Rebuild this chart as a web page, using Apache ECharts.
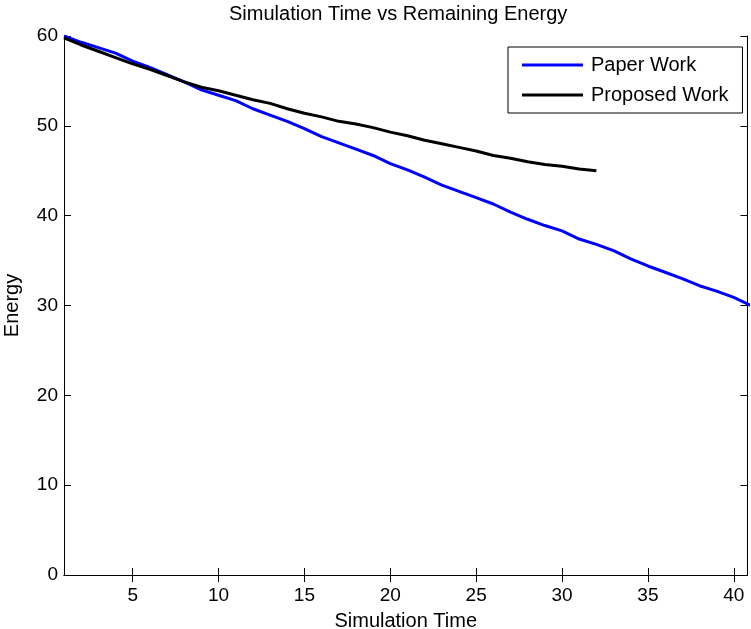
<!DOCTYPE html>
<html>
<head>
<meta charset="utf-8">
<script src="https://cdn.jsdelivr.net/npm/echarts@6/dist/echarts.min.js"></script>
<style>
  html, body { margin: 0; padding: 0; background: #fff; }
  #chart { width: 751px; height: 629px; }
</style>
</head>
<body>
<div id="chart"></div>
<script>
// ---- data ----
const titleText = 'Simulation Time vs Remaining Energy';
const xName = 'Simulation Time';
const yName = 'Energy';
const paperName = 'Paper Work';
const proposedName = 'Proposed Work';

const paperX = [1,2,3,4,5,6,7,8,9,10,11,12,13,14,15,16,17,18,19,20,21,22,23,24,25,26,27,28,29,30,31,32,33,34,35,36,37,38,39,40,41];
const paperY = [60.0,59.3,58.7,58.1,57.2,56.5,55.7,54.9,54.0,53.4,52.8,51.9,51.2,50.5,49.7,48.8,48.1,47.4,46.7,45.8,45.1,44.3,43.4,42.7,42.0,41.3,40.4,39.6,38.9,38.3,37.4,36.8,36.1,35.2,34.4,33.7,33.0,32.2,31.6,30.9,30.0];

const proposedX = [1,2,3,4,5,6,7,8,9,10,11,12,13,14,15,16,17,18,19,20,21,22,23,24,25,26,27,28,29,30,31,32];
const proposedY = [59.8,59.0,58.3,57.6,56.9,56.3,55.6,54.9,54.3,53.9,53.4,52.9,52.5,51.9,51.4,51.0,50.5,50.2,49.8,49.3,48.9,48.4,48.0,47.6,47.2,46.7,46.4,46.0,45.7,45.5,45.2,45.0];

const xTicks = [5,10,15,20,25,30,35,40];
const yTicks = [0,10,20,30,40,50,60];

// ---- chart ----
const FONT = 'Arial, "Liberation Sans", sans-serif';
const zip = (xs, ys) => xs.map((x, i) => [x, ys[i]]);
const axisLine = { show: true, lineStyle: { color: '#000', width: 1 } };

const chart = echarts.init(document.getElementById('chart'), null, { renderer: 'canvas' });
chart.setOption({
  animation: false,
  backgroundColor: '#fff',
  textStyle: { fontFamily: FONT },
  title: {
    text: titleText,
    left: 229, top: 4, padding: 0,
    textStyle: { fontFamily: FONT, fontSize: 20, fontWeight: 'normal', color: '#000' }
  },
  grid: { left: 64, right: 3.5, top: 36, bottom: 54, containLabel: false, outerBoundsMode: 'none' },
  legend: {
    orient: 'vertical',
    left: 508, top: 47,
    padding: [8, 14, 8, 14],
    itemGap: 10,
    itemWidth: 61, itemHeight: 3,
    icon: 'rect',
    backgroundColor: '#fff',
    borderColor: '#000', borderWidth: 1, borderRadius: 0,
    textStyle: { fontFamily: FONT, fontSize: 20, color: '#000', lineHeight: 20, padding: [0,0,0,3] },
    data: [paperName, proposedName]
  },
  xAxis: [
    {
      type: 'value', min: 1, max: 40.8, position: 'bottom',
      name: xName, nameLocation: 'middle', nameGap: 36,
      nameTextStyle: { fontFamily: FONT, fontSize: 20, color: '#000' },
      axisLine: axisLine,
      axisTick: { show: true, inside: true, length: 7, customValues: xTicks, lineStyle: { color: '#000' } },
      axisLabel: { show: true, customValues: xTicks, margin: 11, fontFamily: FONT, fontSize: 19, color: '#000' },
      splitLine: { show: false }
    },
    {
      type: 'value', min: 1, max: 40.8, position: 'top',
      axisLine: axisLine,
      axisTick: { show: true, inside: true, length: 7, customValues: xTicks, lineStyle: { color: '#000' } },
      axisLabel: { show: false },
      splitLine: { show: false }
    }
  ],
  yAxis: [
    {
      type: 'value', min: 0, max: 60, interval: 10, position: 'left',
      name: yName, nameLocation: 'middle', nameGap: 42,
      nameTextStyle: { fontFamily: FONT, fontSize: 20, color: '#000' },
      axisLine: axisLine,
      axisTick: { show: true, inside: true, length: 7, lineStyle: { color: '#000' } },
      axisLabel: { show: true, margin: 6, fontFamily: FONT, fontSize: 19, color: '#000' },
      splitLine: { show: false }
    },
    {
      type: 'value', min: 0, max: 60, interval: 10, position: 'right',
      axisLine: axisLine,
      axisTick: { show: true, inside: true, length: 7, lineStyle: { color: '#000' } },
      axisLabel: { show: false },
      splitLine: { show: false }
    }
  ],
  series: [
    {
      name: paperName, type: 'line', xAxisIndex: 0, yAxisIndex: 0,
      data: zip(paperX, paperY),
      symbol: 'none', smooth: false, clip: true,
      lineStyle: { color: '#0000ff', width: 3 },
      itemStyle: { color: '#0000ff' },
      z: 2
    },
    {
      name: proposedName, type: 'line', xAxisIndex: 0, yAxisIndex: 0,
      data: zip(proposedX, proposedY),
      symbol: 'none', smooth: false, clip: true,
      lineStyle: { color: '#000000', width: 3 },
      itemStyle: { color: '#000000' },
      z: 3
    }
  ]
});
</script>
</body>
</html>
